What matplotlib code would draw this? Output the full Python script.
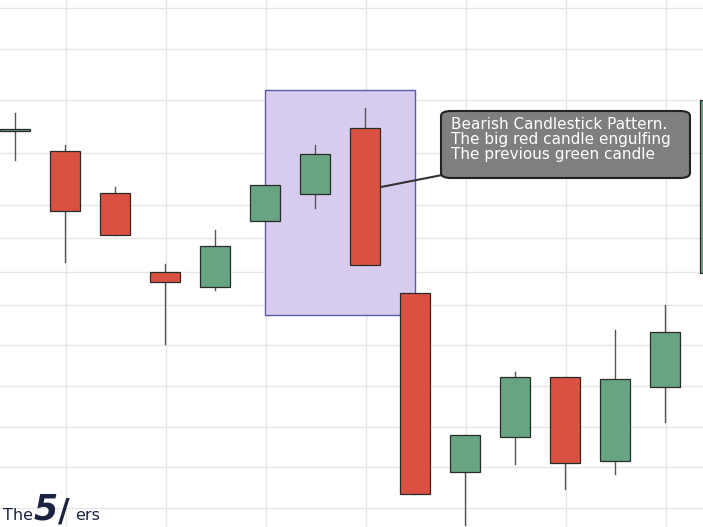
import matplotlib
matplotlib.use("Agg")
import matplotlib.pyplot as plt
from matplotlib.patches import Rectangle, FancyBboxPatch

# values read in chart units (axis is inverted: smaller = higher)
opens  = [131, 151, 193, 272, 287, 221, 194, 128, 293, 472, 437, 377, 461, 387, 273]
closes = [129, 211, 235, 282, 246, 185, 154, 265, 494, 435, 377, 463, 379, 332, 100]
highs  = [113, 145, 187, 264, 230, 185, 145, 108, 293, 435, 372, 377, 330, 305, 100]
lows   = [160, 262, 235, 344, 290, 221, 208, 265, 494, 525, 464, 489, 474, 422, 273]
hgrid = [8, 49, 100, 153, 205, 238, 272, 305, 345, 386, 427, 467, 508]
vgrid = [1, 3, 5, 7, 9, 11, 13]

GREEN, RED = "#67a582", "#d95140"
fig = plt.figure(figsize=(7.03, 5.27), dpi=100)
ax = fig.add_axes([0, 0, 1, 1])
ax.set_xlim(-0.3, 13.76)
ax.set_ylim(527, 0)
for y in hgrid:
    ax.axhline(y, color="#e6e6e6", lw=1, zorder=0)
for x in vgrid:
    ax.axvline(x + 0.02, color="#e6e6e6", lw=1, zorder=0)

ax.add_patch(Rectangle((5, 90), 3, 225, facecolor="#d8ccee", edgecolor="#5a5aa8", lw=1, zorder=1))

w = 0.6
for i, (o, c, h, l) in enumerate(zip(opens, closes, highs, lows)):
    col = GREEN if c < o else RED
    ax.plot([i, i], [h, l], color="#555555", lw=1, zorder=2)
    ax.add_patch(Rectangle((i - w / 2, min(o, c)), w, abs(o - c), facecolor=col,
                           edgecolor="#2a2a2a", lw=0.9, zorder=3))

ax.plot([7.32, 8.85], [187, 172], color="#333333", lw=1.5, zorder=4)
ax.add_patch(FancyBboxPatch((8.52, 111), 4.98, 67, boxstyle="round,pad=0,rounding_size=0.2",
                            mutation_aspect=25, facecolor="#7f7f7f", edgecolor="#222222", lw=1.5, zorder=5))
ax.text(8.72, 117, "Bearish Candlestick Pattern.\nThe big red candle engulfing\nThe previous green candle",
        color="white", fontsize=11, va="top", ha="left", linespacing=1.0, zorder=6)

ax.text(-0.24, 520, "The", fontsize=11.5, color="#1c2340", ha="left", va="baseline", zorder=6)
ax.text(0.38, 520, "5", fontsize=25, color="#1c2340", fontweight="bold", style="italic",
        ha="left", va="baseline", zorder=6)
ax.text(0.86, 520, "/", fontsize=23, color="#1c2340", fontweight="bold", ha="left", va="baseline", zorder=6)
ax.text(1.2, 520, "ers", fontsize=11.5, color="#1c2340", ha="left", va="baseline", zorder=6)
ax.axis("off")
fig.savefig("out.png", dpi=100)
